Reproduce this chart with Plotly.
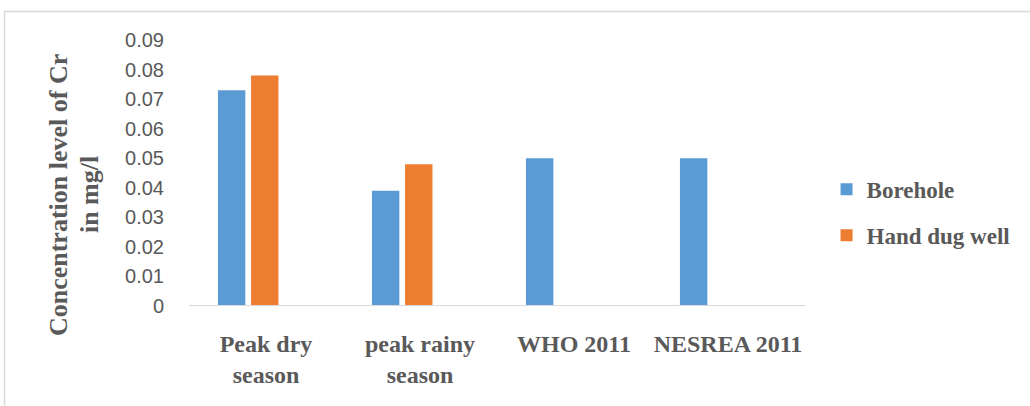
import plotly.graph_objects as go

# Chromium concentration by sampling period and guideline limits
categories = ["Peak dry<br>season", "peak rainy<br>season", "WHO 2011", "NESREA 2011"]
borehole = [0.073, 0.039, 0.05, 0.05]
hand_dug_well = [0.078, 0.048, None, None]
y_ticks = [0, 0.01, 0.02, 0.03, 0.04, 0.05, 0.06, 0.07, 0.08, 0.09]
y_tick_labels = ["0", "0.01", "0.02", "0.03", "0.04", "0.05", "0.06", "0.07", "0.08", "0.09"]
y_title_lines = ["Concentration level of Cr", "in mg/l"]

TEXT = "#595959"
SERIF = "Liberation Serif"

fig = go.Figure()
fig.add_trace(go.Bar(
    x=categories, y=borehole, name="<b>Borehole</b>",
    marker=dict(color="#5B9BD5", line=dict(width=0)),
    width=0.178, offset=-0.312, legendgroup="a",
))
fig.add_trace(go.Bar(
    x=categories, y=hand_dug_well, name="<b>Hand dug well</b>",
    marker=dict(color="#ED7D31", line=dict(width=0)),
    width=0.178, offset=-0.097, legendgroup="b",
))

# value-axis title, one rotated annotation per line (pixel offsets from the plot's left edge)
title_shift = [-131, -100]
annotations = [
    dict(text="<b>" + line + "</b>",
         xref="paper", yref="paper", x=0, y=0.417, xshift=dx,
         xanchor="center", yanchor="middle", textangle=-90,
         showarrow=False,
         font=dict(family=SERIF, size=26, color=TEXT))
    for line, dx in zip(y_title_lines, title_shift)
]

fig.update_layout(
    width=1030, height=406,
    margin=dict(l=189, r=225, t=40, b=100),
    paper_bgcolor="white", plot_bgcolor="white",
    barmode="overlay",
    showlegend=True,
    legend=dict(
        x=1.035, xanchor="left", y=0.352, yanchor="middle",
        font=dict(family=SERIF, size=23, color=TEXT),
        tracegroupgap=13, traceorder="grouped",
        itemwidth=30, bgcolor="rgba(0,0,0,0)",
    ),
    xaxis=dict(
        type="category", showgrid=False, zeroline=False,
        showline=False, ticks="",
        tickvals=categories,
        ticktext=["<b>" + c + "</b>" for c in categories],
        tickfont=dict(family=SERIF, size=24, color=TEXT),
        ticklabelstandoff=21,
    ),
    yaxis=dict(
        range=[0, 0.09], tickvals=y_ticks, ticktext=y_tick_labels,
        showgrid=False, zeroline=False, showline=False, ticks="",
        tickfont=dict(family="Liberation Sans", size=20, color=TEXT),
        ticklabelstandoff=24,
    ),
    annotations=annotations,
    shapes=[
        # baseline of the value axis
        dict(type="line", xref="paper", yref="y", x0=0, x1=1, y0=0, y1=0,
             line=dict(color="#D9D9D9", width=2), layer="above"),
        # chart frame (top and left edges visible)
        dict(type="rect", xref="paper", yref="paper",
             x0=(4.5 - 189) / 616, x1=2.0, y0=-1.0, y1=(306 - 11.5) / 266,
             line=dict(color="#D9D9D9", width=1.5), layer="below"),
    ],
)

fig.write_html("out.html")
